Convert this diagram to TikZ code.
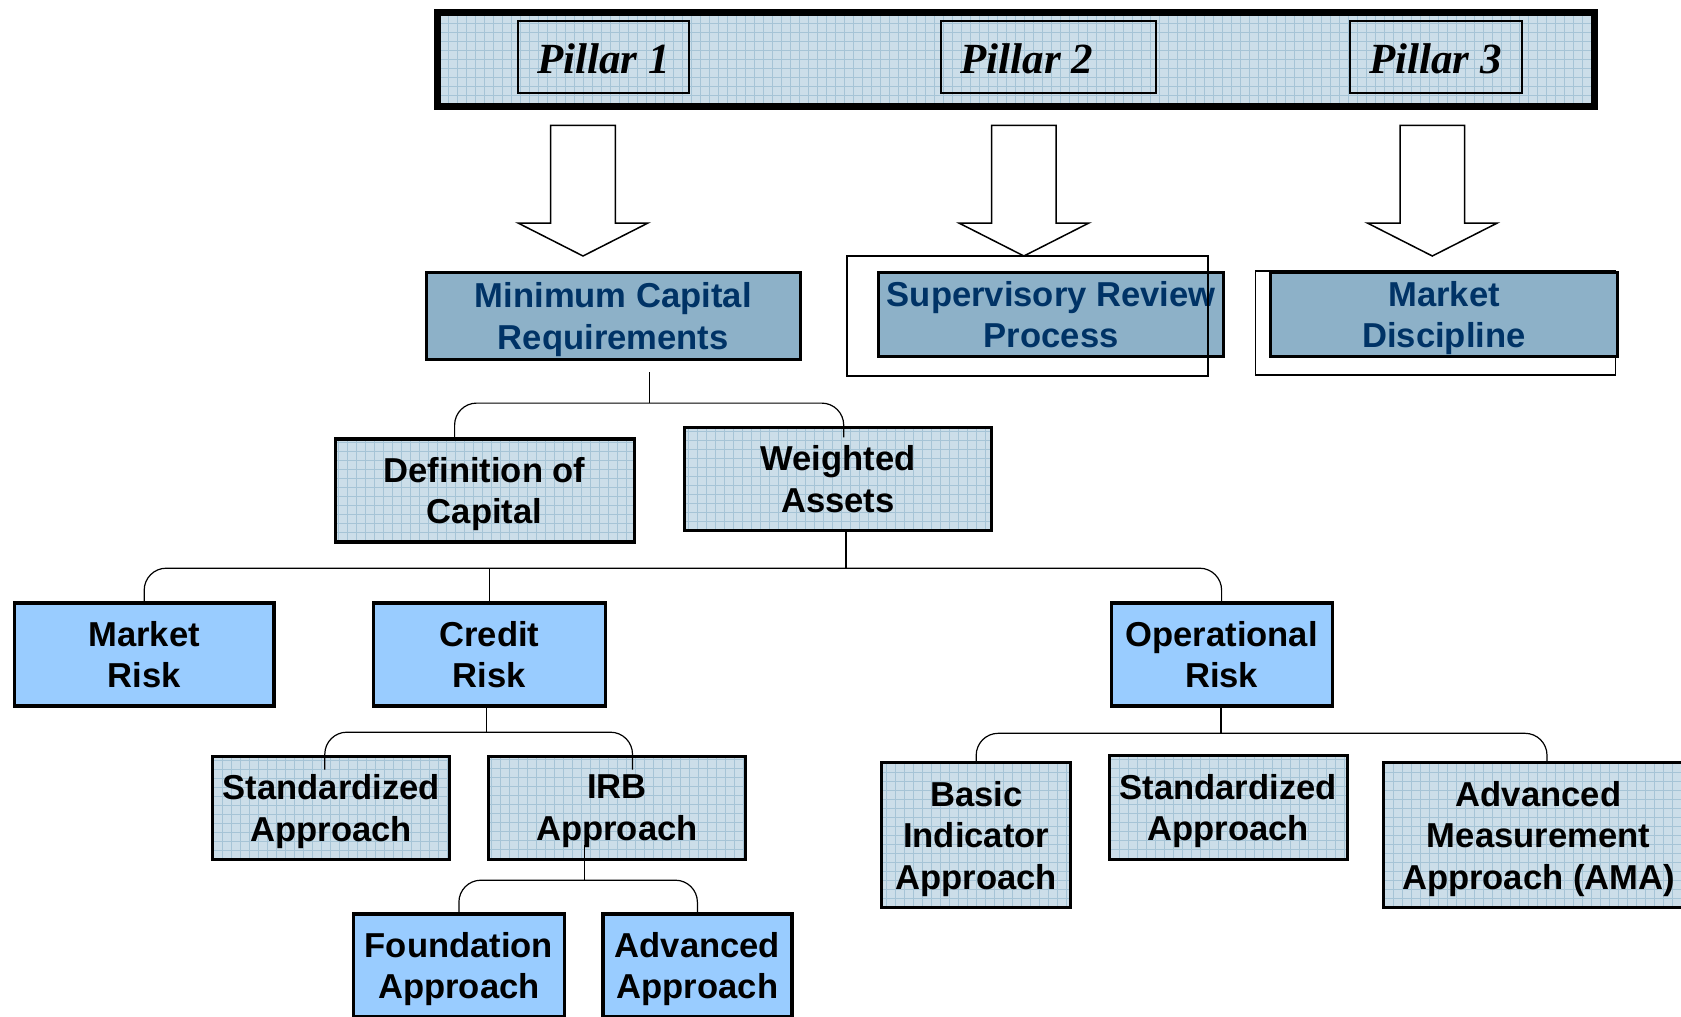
\documentclass[tikz,border=0pt]{standalone}
\usepackage{fontspec}
\setmainfont{Liberation Sans}
\newfontfamily\pillarfont{Liberation Serif}
\usetikzlibrary{calc}
\definecolor{gridbg}{HTML}{CCDEE9}
\definecolor{gridln}{HTML}{A6C4D6}
\definecolor{steel}{HTML}{8DB1C8}
\definecolor{navy}{HTML}{003366}
\definecolor{sky}{HTML}{99CCFF}
\tikzset{
  blockarrow/.pic={\draw[line width=0.75pt, fill=white, miter limit=10]
    (-32.3,-130.6) -- (32.3,-130.6) -- (32.3,-33) -- (65,-33) -- (0,0) -- (-65,-33) -- (-32.3,-33) -- cycle;}
}
\begin{document}
\begin{tikzpicture}[x=0.5pt, y=-0.5pt,
  every node/.style={font=\bfseries\fontsize{17.3}{20.8}\selectfont, align=center, inner sep=0pt, text depth=0pt},
  gridfill/.style={fill=gridbg, path picture={\draw[gridln, line width=0.45pt] (path picture bounding box.south west) grid[step=4.5pt] (path picture bounding box.north east);}},
  gbox/.style={draw, line width=1.6pt, gridfill},
  sbox/.style={draw, line width=1.6pt, fill=steel, text=navy},
  lbox/.style={draw, line width=1.6pt, fill=sky},
  pbox/.style={draw, line width=0.75pt},
  ptext/.style={font=\pillarfont\bfseries\itshape\fontsize{21.5}{24}\selectfont},
  thinbox/.style={draw, line width=0.6pt},
  conn/.style={draw, line width=0.6pt, rounded corners=11pt}
]
\useasboundingbox (0,0) rectangle (1681,1017);
\clip (0,0) rectangle (1681,1017);
\fill[white] (0,0) rectangle (1681,1017);

% banner with the three pillars
\node[gbox, line width=3.5pt, minimum width=578.3pt, minimum height=47pt] (banner) at (1015.7,59) {};
\node[pbox, minimum width=85.5pt, minimum height=36pt] (p1) at (603.5,57) {};
\node[ptext] (p1t) at (603.6,59) {Pillar 1};
\node[pbox, minimum width=107.5pt, minimum height=36pt] (p2) at (1048.5,57) {};
\node[ptext] (p2t) at (1027,59) {Pillar 2};
\node[pbox, minimum width=86pt, minimum height=36pt] (p3) at (1436,57) {};
\node[ptext] (p3t) at (1435.5,59) {Pillar 3};

% block arrows
\pic at (583,256) {blockarrow};
\pic at (1023.9,256) {blockarrow};
\pic at (1432.3,256) {blockarrow};

% pillar boxes
\node[sbox, minimum width=187pt, minimum height=43.5pt] (mcr) at (613.3,316) {Minimum Capital\\Requirements};
\node[sbox, minimum width=172.5pt, minimum height=42pt] (srp) at (1051.2,314.5) {Supervisory Review\\Process};
\node[thinbox, minimum width=180.5pt, minimum height=60pt] (srpo) at (1027.5,316) {};
\node[thinbox, minimum width=180pt, minimum height=52pt] (mdo) at (1435.5,323) {};
\node[sbox, minimum width=173.5pt, minimum height=42pt] (md) at (1444,314.5) {Market\\Discipline};

% second level
\node[gbox, minimum width=149.5pt, minimum height=51.5pt] (doc) at (484.6,490.5) {Definition of\\Capital};
\node[gbox, minimum width=153.3pt, minimum height=51.5pt] (wa) at (837.9,478.7) {Weighted\\Assets};

% risks
\node[lbox, minimum width=129.8pt, minimum height=51.5pt] (mr) at (144.2,654.5) {Market\\Risk};
\node[lbox, minimum width=115.8pt, minimum height=51.5pt] (cr) at (489.4,654.5) {Credit\\Risk};
\node[lbox, minimum width=110.5pt, minimum height=51.5pt] (op) at (1221.6,654.5) {Operational\\Risk};

% approaches
\node[gbox, minimum width=118.5pt, minimum height=51.5pt] (sac) at (331.3,807.8) {Standardized\\Approach};
\node[gbox, minimum width=128.8pt, minimum height=51.5pt] (irb) at (617,807.8) {IRB\\Approach};
\node[lbox, minimum width=105.8pt, minimum height=51.5pt] (fa) at (458.9,965.5) {Foundation\\Approach};
\node[lbox, minimum width=94.5pt, minimum height=51.5pt] (aa) at (697.4,965.5) {Advanced\\Approach};
\node[gbox, minimum width=94.5pt, minimum height=72.5pt] (bia) at (976.2,835.2) {Basic\\Indicator\\Approach};
\node[gbox, minimum width=119pt, minimum height=52pt] (sao) at (1228.1,807.3) {Standardized\\Approach};
\node[gbox, minimum width=155pt, minimum height=72.5pt] (ama) at (1538.5,835.2) {Advanced\\Measurement\\Approach (AMA)};

% tree 1
\coordinate (t1) at ($(mcr.south)+(36.4,42)$);
\coordinate (t1s) at ($(mcr.south)+(36.4,11)$);
\coordinate (t1L) at ($(doc.north)+(-30,0)$);
\coordinate (t1R) at ($(wa.north)+(5.8,0)$);
\draw[conn] (t1s) -- (t1);
\draw[conn] (t1L |- doc.north) |- (t1R |- t1) -- (t1R |- doc.north);

% tree 2
\coordinate (t2) at ($(wa.south)+(8,36.4)$);
\draw[conn] (t2 |- wa.south) -- (t2);
\draw[conn] (mr.north) |- (op.north |- t2) -- (op.north);
\draw[conn] (cr.north |- t2) -- (cr.north);

% tree 3
\coordinate (t3) at ($(cr.south)+(-2.7,24.6)$);
\coordinate (t3L) at ($(sac.north)+(-6.5,15)$);
\coordinate (t3R) at ($(irb.north)+(15.5,15)$);
\draw[conn] (t3 |- cr.south) -- (t3);
\draw[conn] (t3L) |- (t3R |- t3) -- (t3R);

% tree 4
\coordinate (t4s) at ($(irb.south)+(-32.7,-16)$);
\coordinate (t4) at ($(irb.south)+(-32.7,19.3)$);
\draw[conn] (t4s) -- (t4);
\draw[conn] (fa.north) |- (aa.north |- t4) -- (aa.north);

% tree 5
\coordinate (t5) at ($(op.south)+(-0.6,25.7)$);
\coordinate (t5R) at ($(ama.north)+(8.5,2)$);
\draw[conn] (t5 |- op.south) -- (t5);
\draw[conn] (bia.north) |- (t5R |- t5) -- (t5R);
\end{tikzpicture}
\end{document}
